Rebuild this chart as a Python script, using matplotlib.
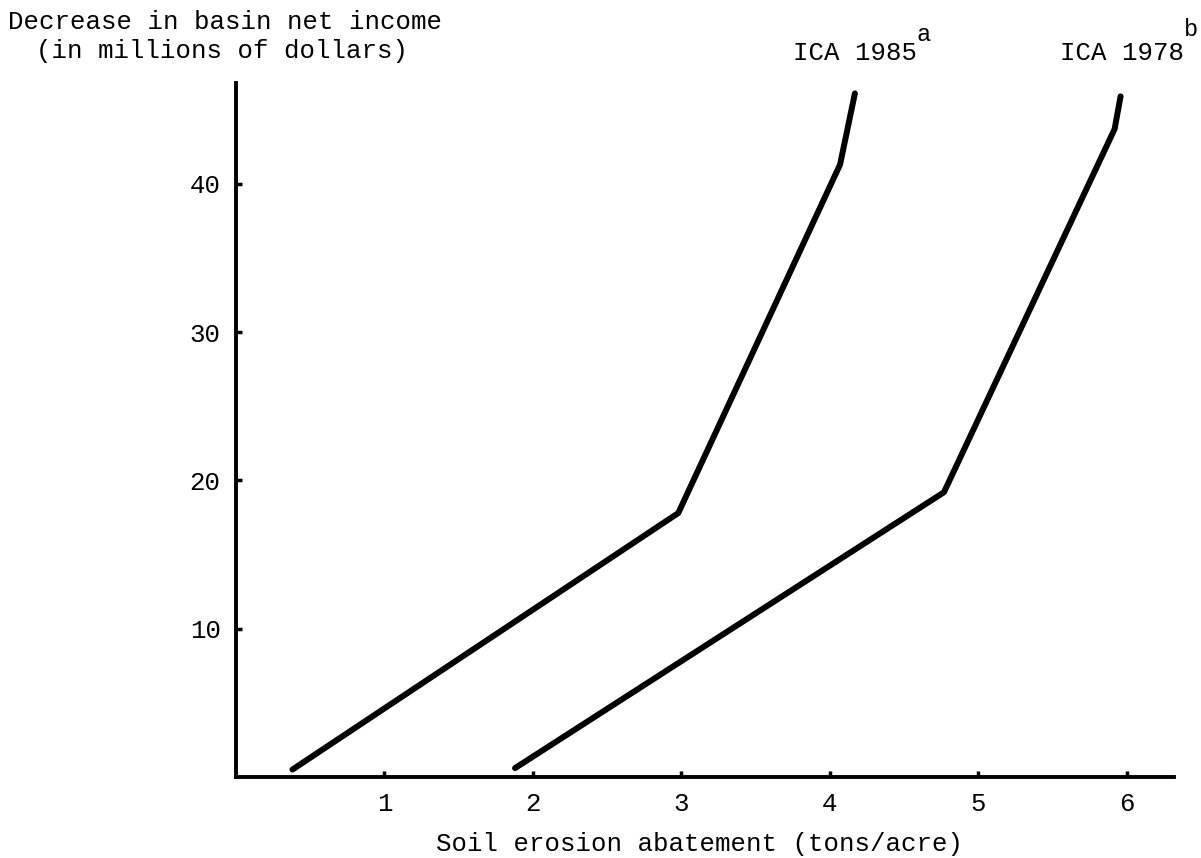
import matplotlib.pyplot as plt

# ICA 1985 curve (tons/acre, millions of dollars)
x_1985 = [0.38, 2.98, 4.07, 4.17]
y_1985 = [0.5, 17.8, 41.3, 46.1]

# ICA 1978 curve
x_1978 = [1.88, 4.77, 5.92, 5.96]
y_1978 = [0.6, 19.2, 43.7, 45.9]

x_ticks = [1, 2, 3, 4, 5, 6]
y_ticks = [10, 20, 30, 40]

plt.rcParams["font.family"] = ["Liberation Mono", "DejaVu Sans Mono"]

W, H = 1201, 858
fig = plt.figure(figsize=(W / 100, H / 100), dpi=100)
ax = fig.add_axes([236 / W, 1 - 777 / H, (1174 - 236) / W, (777 - 83) / H])

ax.plot(x_1985, y_1985, color="black", lw=4.3, solid_capstyle="round", solid_joinstyle="round")
ax.plot(x_1978, y_1978, color="black", lw=4.3, solid_capstyle="round", solid_joinstyle="round")

ax.set_xlim(0, 6.32)
ax.set_ylim(0, 46.8)
ax.set_xticks(x_ticks)
ax.set_yticks(y_ticks)
ax.tick_params(direction="in", length=4, width=2.5, labelsize=18.5, pad=11)

for side in ["top", "right"]:
    ax.spines[side].set_visible(False)
for side in ["left", "bottom"]:
    ax.spines[side].set_linewidth(2.8)


def px_text(x, y, s, size=18.5, ha="left"):
    fig.text(x / W, 1 - y / H, s, fontsize=size, ha=ha, va="baseline")


px_text(8, 29, "Decrease in basin net income")
px_text(36, 58, "(in millions of dollars)")

px_text(793, 60, "ICA 1985")
px_text(916, 41, "a", size=17)
px_text(1060, 60, "ICA 1978")
px_text(1184, 36, "b", size=17)

px_text(700, 851, "Soil erosion abatement (tons/acre)", ha="center")

fig.savefig("out.png", dpi=100)
